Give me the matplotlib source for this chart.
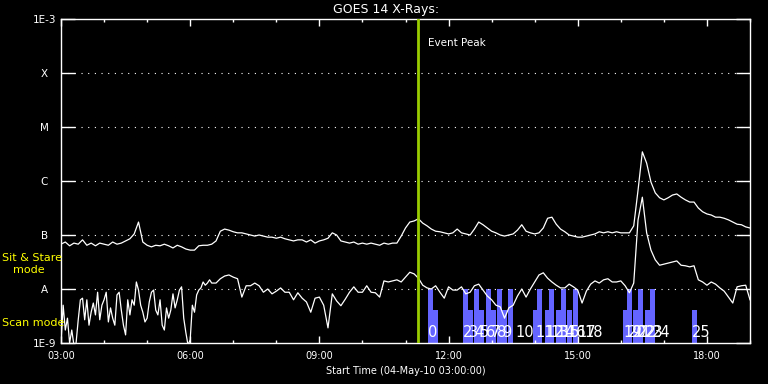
import numpy as np
import matplotlib
matplotlib.use("Agg")
import matplotlib.pyplot as plt
from matplotlib.ticker import FixedLocator, NullLocator

# ---------------- data ----------------
t_start_h = 3.0          # 03:00 UT, 04-May-2010
t_step_h = 0.1           # sample cadence of the values read below (6 min)

# log10 flux (W/m^2), long channel (1-8 A), 03:00-19:00 every 6 min
upper_log = [
    -7.17, -7.13, -7.20, -7.15, -7.17, -7.09, -7.19, -7.15, -7.20, -7.15,
    -7.17, -7.19, -7.13, -7.17, -7.15, -7.11, -7.07, -6.98, -6.76, -7.13,
    -7.19, -7.22, -7.19, -7.20, -7.17, -7.20, -7.24, -7.19, -7.22, -7.26,
    -7.28, -7.28, -7.20, -7.19, -7.19, -7.17, -7.11, -6.93, -6.89, -6.91,
    -6.94, -6.96, -6.96, -6.98, -7.00, -7.02, -7.00, -7.02, -7.04, -7.04,
    -7.06, -7.04, -7.07, -7.09, -7.11, -7.09, -7.09, -7.13, -7.09, -7.15,
    -7.11, -7.09, -7.06, -6.96, -7.00, -7.11, -7.13, -7.15, -7.13, -7.17,
    -7.15, -7.17, -7.15, -7.17, -7.19, -7.15, -7.17, -7.15, -7.15, -7.02,
    -6.87, -6.76, -6.74, -6.70, -6.78, -6.83, -6.89, -6.93, -6.94, -6.96,
    -6.98, -6.96, -6.89, -6.96, -6.98, -7.00, -6.89, -6.76, -6.81, -6.87,
    -6.93, -6.96, -7.00, -7.02, -7.00, -6.98, -6.91, -6.81, -6.93, -6.96,
    -6.98, -6.96, -6.87, -6.69, -6.67, -6.80, -6.89, -6.94, -7.00, -7.02,
    -7.04, -7.04, -7.02, -7.00, -6.98, -6.94, -6.96, -6.94, -6.96, -6.94,
    -6.96, -6.96, -6.96, -6.83, -6.17, -5.46, -5.67, -6.02, -6.22, -6.31,
    -6.35, -6.31, -6.26, -6.24, -6.30, -6.35, -6.39, -6.39, -6.50, -6.57,
    -6.61, -6.63, -6.67, -6.67, -6.69, -6.72, -6.76, -6.80, -6.81, -6.85,
    -6.87,
]

# log10 flux (W/m^2), short channel (0.5-4 A)
# early noisy part: 03:00-06:30 every 3 min
lower_early_start_h = 3.0
lower_early_step_h = 0.05
lower_early_log = [
    -9.00, -8.30, -8.76, -8.54, -9.00, -8.76, -9.04, -9.00, -8.57, -8.20,
    -8.17, -8.57, -8.20, -8.67, -8.43, -8.26, -8.48, -8.06, -8.57, -8.30,
    -8.20, -8.06, -8.61, -8.35, -8.54, -8.67, -8.11, -8.06, -8.39, -8.67,
    -8.85, -8.20, -8.48, -8.20, -8.30, -7.87, -8.02, -8.30, -8.43, -8.61,
    -8.54, -8.24, -8.06, -8.02, -8.39, -8.48, -8.20, -8.67, -8.76, -8.35,
    -8.54, -8.39, -8.09, -8.35, -8.20, -8.02, -7.96, -8.54, -8.81, -9.04,
    -8.94, -8.30, -8.43, -8.11, -8.02, -7.98, -7.87, -7.93, -7.89, -7.83,
    -7.89,
]
# rest: 06:36-19:00 every 6 min
lower_late_start_h = 6.6
lower_late_step_h = 0.1
lower_late_log = [
    -7.89, -7.81, -7.76, -7.74,
    -7.78, -7.81, -8.15, -7.94, -7.94, -7.89, -7.94, -8.06, -8.00, -8.09,
    -8.04, -7.98, -8.06, -8.06, -8.20, -8.07, -8.17, -8.24, -8.43, -8.17,
    -8.15, -8.30, -8.72, -8.09, -8.22, -8.31, -8.19, -8.06, -7.96, -8.06,
    -8.06, -7.94, -8.06, -8.07, -8.15, -7.85, -7.87, -7.85, -7.83, -7.87,
    -7.78, -7.69, -7.72, -7.80, -7.93, -7.98, -8.00, -7.94, -8.06, -8.17,
    -7.96, -8.02, -8.02, -7.96, -8.09, -8.06, -7.94, -7.91, -8.02, -8.13,
    -8.20, -8.30, -8.33, -8.54, -8.35, -8.30, -8.13, -8.00, -8.15, -8.00,
    -7.87, -7.74, -7.70, -7.80, -7.87, -7.93, -7.98, -7.98, -7.91, -7.96,
    -8.02, -8.26, -8.04, -7.91, -7.85, -7.89, -7.83, -7.81, -7.87, -7.87,
    -7.85, -7.94, -8.07, -7.89, -6.72, -6.30, -6.96, -7.28, -7.46, -7.56,
    -7.54, -7.52, -7.50, -7.48, -7.56, -7.57, -7.59, -7.57, -7.83, -7.87,
    -7.93, -7.87, -7.91, -7.98, -8.04, -8.15, -8.26, -7.96, -7.94, -7.93,
    -8.20,
]

y_levels = [1e-9, 1e-8, 1e-7, 1e-6, 1e-5, 1e-4, 1e-3]
y_labels = ["1E-9", "A", "B", "C", "M", "X", "1E-3"]
x_major_h = [3, 6, 9, 12, 15, 18]
x_major_labels = ["03:00", "06:00", "09:00", "12:00", "15:00", "18:00"]
x_minor_h = list(range(3, 20))

event_peak_h = 11.29

# scan rasters (start hour); tall = Sit & Stare level, short = lower level
tall_bar_starts = [11.525, 12.338, 12.593, 12.872, 13.128, 13.383, 14.057,
                   14.336, 14.614, 14.893, 16.148, 16.403, 16.682]
short_bar_starts = [11.641, 12.454, 12.710, 12.988, 13.244, 13.964, 14.243,
                    14.498, 14.754, 16.055, 16.287, 16.566, 17.657]
bar_width_h = 0.105
tall_bar_top = 1e-8
short_bar_top = 10 ** -8.39

scan_labels = ["0", "2", "3", "4", "5", "6", "7", "8", "9", "10",
               "11", "12", "13", "14", "15", "16", "17", "18",
               "19", "20", "21", "22", "23", "24", "25"]
scan_label_h = [11.525, 12.338, 12.477, 12.593, 12.733, 12.872, 12.988, 13.128,
                13.244, 13.546, 14.010, 14.243, 14.359, 14.498, 14.614, 14.754,
                14.986, 15.149, 16.055, 16.171, 16.287, 16.403, 16.566, 16.728,
                17.657]

# ---------------- figure ----------------
W, H = 768, 384
fig = plt.figure(figsize=(W / 100, H / 100), dpi=100, facecolor="black")
ax = fig.add_axes([61 / W, 41 / H, 689 / W, 324 / H])
ax.set_facecolor("black")
ax.set_yscale("log")
ax.set_xlim(3, 19)
ax.set_ylim(1e-9, 1e-3)

bar_color = "#6464ff"
ax.bar(tall_bar_starts, [tall_bar_top - 1e-9] * len(tall_bar_starts),
       bottom=1e-9, width=bar_width_h, align="edge", color=bar_color,
       linewidth=0, zorder=1)
ax.bar(short_bar_starts, [short_bar_top - 1e-9] * len(short_bar_starts),
       bottom=1e-9, width=bar_width_h, align="edge", color=bar_color,
       linewidth=0, zorder=1)

# dotted level lines
for lv in y_levels[1:-1]:
    ax.axhline(lv, color="white", lw=0.8, dashes=(1, 5), zorder=2)

t_upper = t_start_h + t_step_h * np.arange(len(upper_log))
ax.plot(t_upper, 10 ** np.array(upper_log), color="white", lw=0.9, zorder=3)

t_low_early = lower_early_start_h + lower_early_step_h * np.arange(len(lower_early_log))
t_low_late = lower_late_start_h + lower_late_step_h * np.arange(len(lower_late_log))
t_lower = np.concatenate([t_low_early, t_low_late])
f_lower = 10 ** np.concatenate([lower_early_log, lower_late_log])
ax.plot(t_lower, f_lower, color="white", lw=0.9, zorder=3)

ax.axvline(event_peak_h, color="#99cc00", lw=2.0, zorder=4)
ax.text(event_peak_h + 0.235, 10 ** -3.44, "Event Peak", color="white",
        fontsize=7.5, ha="left", va="center", zorder=5)

for lab, h in zip(scan_labels, scan_label_h):
    ax.text(h, 10 ** -8.81, lab, color="white", fontsize=10.5, ha="left",
            va="center", zorder=5)

# axes styling
for sp in ax.spines.values():
    sp.set_color("white")
    sp.set_linewidth(1.0)

ax.xaxis.set_major_locator(FixedLocator(x_major_h))
ax.xaxis.set_minor_locator(FixedLocator(x_minor_h))
ax.set_xticklabels(x_major_labels)
ax.tick_params(axis="x", which="major", direction="in", length=5, width=1,
               color="white", top=True, bottom=True, labelcolor="white",
               labelsize=7, pad=6)
ax.tick_params(axis="x", which="minor", direction="in", length=2.5, width=1,
               color="white", top=True, bottom=True)

ax.yaxis.set_major_locator(FixedLocator(y_levels))
ax.yaxis.set_minor_locator(NullLocator())
ax.set_yticklabels(y_labels)
ax.tick_params(axis="y", which="major", direction="in", length=10, width=1,
               color="white", left=True, right=True, labelcolor="white",
               labelsize=7.5, pad=12)
for t in ax.get_yticklabels():
    t.set_horizontalalignment("center")

ax.set_xlabel("Start Time (04-May-10 03:00:00)", color="white", fontsize=7,
              labelpad=3)

fig.text(386 / W, 1 - 9 / H, "GOES 14 X-Rays:", color="white", fontsize=9,
         ha="center", va="center")
fig.text(2 / W, 1 - 258 / H, "Sit & Stare", color="yellow", fontsize=8,
         ha="left", va="center")
fig.text(13 / W, 1 - 270 / H, "mode", color="yellow", fontsize=8,
         ha="left", va="center")
fig.text(2 / W, 1 - 323 / H, "Scan mode", color="yellow", fontsize=8,
         ha="left", va="center")

fig.savefig("out.png", dpi=100, facecolor="black")
